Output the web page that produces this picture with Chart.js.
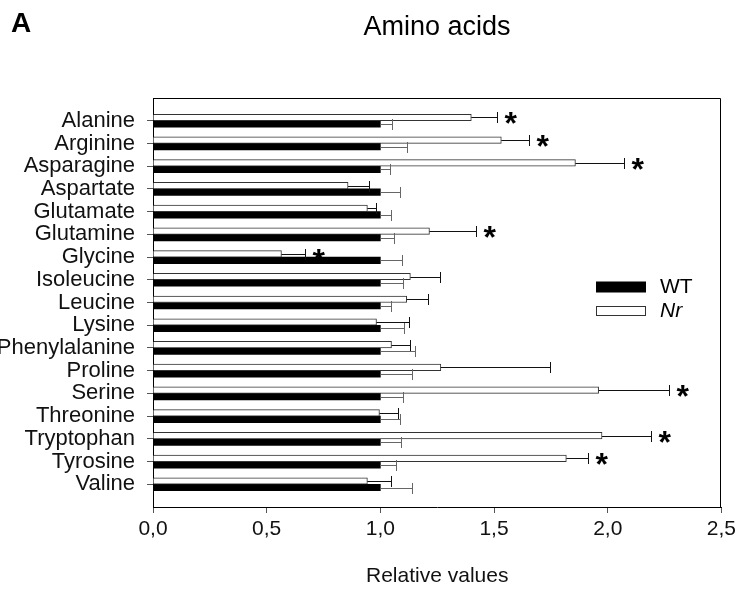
<!DOCTYPE html>
<html><head><meta charset="utf-8">
<script src="https://cdn.jsdelivr.net/npm/chart.js@4"></script>
<style>html,body{margin:0;padding:0;background:#fff}#wrap{width:740px;height:590px}</style>
</head><body><div id="wrap"><canvas id="c" width="740" height="590"></canvas></div>
<script>
const categories = ['Alanine','Arginine','Asparagine','Aspartate','Glutamate','Glutamine','Glycine','Isoleucine','Leucine','Lysine','Phenylalanine','Proline','Serine','Threonine','Tryptophan','Tyrosine','Valine'];
const wtValues  = [1,1,1,1,1,1,1,1,1,1,1,1,1,1,1,1,1];
const wtErrors  = [0.052,0.116,0.043,0.087,0.046,0.061,0.096,0.099,0.047,0.105,0.152,0.141,0.100,0.087,0.091,0.068,0.137];
const nrValues  = [1.400,1.532,1.858,0.858,0.943,1.216,0.565,1.132,1.116,0.983,1.049,1.266,1.960,0.996,1.975,1.818,0.943];
const nrErrors  = [0.115,0.121,0.214,0.093,0.040,0.206,0.103,0.130,0.093,0.144,0.083,0.479,0.309,0.081,0.214,0.097,0.104];
const nrSignificant = [true,true,true,false,false,true,true,false,false,false,false,false,true,false,true,true,false];
const xTickValues = [0,0.5,1,1.5,2,2.5];
const xTickLabels = ['0,0','0,5','1,0','1,5','2,0','2,5'];
const seriesNames = ['WT','Nr'];
const chartTitle = 'Amino acids';
const panelLabel = 'A';
const xAxisTitle = 'Relative values';

const FONT = '"Liberation Sans", Arial, sans-serif';
const pad = arr => [null, ...arr, null];
const yLabels = ['', ...categories, ''];

const decor = {
  id: 'decor',
  afterDatasetsDraw(chart) {
    const {ctx, chartArea: a, scales: {x}} = chart;
    ctx.save();
    chart.data.datasets.forEach((ds, di) => {
      const meta = chart.getDatasetMeta(di);
      meta.data.forEach((bar, j) => {
        const v = ds.data[j], e = ds.errors[j];
        if (v == null || e == null) return;
        const xe = Math.round(x.getPixelForValue(v + e)) + 0.5;
        const y = Math.round(bar.y) + 0.5;
        ctx.strokeStyle = ds.errorColor; ctx.lineWidth = 1;
        ctx.beginPath();
        ctx.moveTo(bar.x, y); ctx.lineTo(xe, y);
        ctx.moveTo(xe, y - 5.5); ctx.lineTo(xe, y + 5.5);
        ctx.stroke();
        if (ds.significant && ds.significant[j]) {
          ctx.font = 'bold 32px ' + FONT;
          ctx.fillStyle = '#000';
          ctx.textAlign = 'left'; ctx.textBaseline = 'alphabetic';
          const m = ctx.measureText('*');
          const yb = bar.y + 1 + (m.actualBoundingBoxAscent - m.actualBoundingBoxDescent) / 2;
          ctx.fillText('*', xe + 7 + m.actualBoundingBoxLeft, yb);
        }
      });
    });
    // frame top / right
    ctx.strokeStyle = '#000'; ctx.lineWidth = 1;
    const L = Math.round(a.left) + 0.5, T = Math.round(a.top) + 0.5, R = Math.round(a.right) - 0.5, B = Math.round(a.bottom) + 0.5;
    ctx.beginPath(); ctx.moveTo(L, T); ctx.lineTo(R, T); ctx.lineTo(R, B); ctx.stroke();
    ctx.restore();
  },
  afterDraw(chart) {
    const {ctx} = chart;
    ctx.save();
    ctx.fillStyle = '#000';
    ctx.textBaseline = 'alphabetic';
    ctx.textAlign = 'left';
    ctx.font = 'bold 28px ' + FONT;
    ctx.fillText(panelLabel, 11, 32);
    ctx.textAlign = 'center';
    ctx.font = '27px ' + FONT;
    ctx.fillText(chartTitle, 437, 35);
    // legend
    const ds = chart.data.datasets;
    const items = [ds[1], ds[0]]; // WT, Nr
    const rows = [287, 311];
    items.forEach((d, i) => {
      const cy = rows[i];
      if (d.backgroundColor === '#000') {
        ctx.fillStyle = '#000'; ctx.fillRect(596, cy - 5.5, 50, 11);
      } else {
        ctx.fillStyle = '#fff'; ctx.fillRect(596, cy - 5, 50, 10);
        ctx.strokeStyle = '#333'; ctx.lineWidth = 1; ctx.strokeRect(596.5, cy - 4.5, 49, 9);
      }
      ctx.fillStyle = '#000';
      ctx.textAlign = 'left'; ctx.textBaseline = 'middle';
      ctx.font = (d.label === 'Nr' ? 'italic ' : '') + '21px ' + FONT;
      ctx.fillText(d.label, 660, cy);
    });
    ctx.restore();
  }
};

new Chart(document.getElementById('c'), {
  type: 'bar',
  data: {
    labels: yLabels,
    datasets: [
      { label: seriesNames[1], data: pad(nrValues), errors: pad(nrErrors), significant: pad(nrSignificant),
        backgroundColor: '#fff', borderColor: '#333', borderWidth: 1, errorColor: '#111', order: 1 },
      { label: seriesNames[0], data: pad(wtValues), errors: pad(wtErrors),
        backgroundColor: '#000', borderWidth: 0, errorColor: '#666', order: 2 }
    ]
  },
  options: {
    indexAxis: 'y',
    responsive: false,
    animation: false,
    devicePixelRatio: 1,
    barThickness: 6.5,
    layout: { padding: { top: 98, right: 17, left: 0, bottom: 0 } },
    plugins: { legend: { display: false }, tooltip: { enabled: false }, title: { display: false } },
    scales: {
      x: {
        type: 'linear', min: 0, max: 2.5,
        afterFit: s => { s.height = 83; },
        afterBuildTicks: s => { s.ticks = xTickValues.map(v => ({ value: v })); },
        ticks: { padding: 4, color: '#111', font: { family: FONT, size: 21 },
          callback: v => { const i = xTickValues.findIndex(t => Math.abs(t - v) < 1e-9); return i >= 0 ? xTickLabels[i] : ''; } },
        grid: { display: true, drawOnChartArea: false, tickLength: 6, tickColor: '#555' },
        border: { display: true, color: '#000', width: 1 },
        title: { display: true, text: xAxisTitle, color: '#111', font: { family: FONT, size: 21 }, padding: { top: 0, bottom: 1 } }
      },
      y: {
        type: 'category', offset: false,
        afterFit: s => { s.width = 153; },
        ticks: { autoSkip: false, padding: 12, color: '#111', font: { family: FONT, size: 22 } },
        grid: { display: true, offset: false, drawOnChartArea: false, tickLength: 6,
          tickColor: c => (c.tick && c.tick.label === '') ? 'rgba(0,0,0,0)' : '#555' },
        border: { display: true, color: '#000', width: 1 }
      }
    }
  },
  plugins: [decor]
});
</script>
</body></html>
